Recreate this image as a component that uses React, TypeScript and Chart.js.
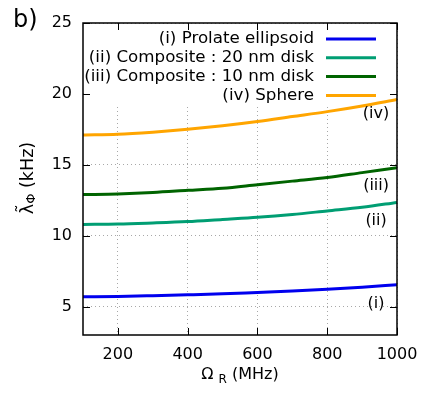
import React, { useEffect, useRef } from "react";
import { Chart, registerables } from "chart.js";

Chart.register(...registerables);

// Rotation frequency Ω_R (MHz)
const omegaR = [100, 200, 300, 400, 500, 600, 700, 800, 900, 1000];
// Mean λ_Φ (kHz) for each geometry
const prolate = [5.7, 5.72, 5.77, 5.83, 5.9, 6.0, 6.1, 6.22, 6.37, 6.55];
const composite20 = [10.8, 10.82, 10.9, 11.0, 11.15, 11.3, 11.5, 11.75, 12.0, 12.35];
const composite10 = [12.9, 12.95, 13.05, 13.2, 13.35, 13.6, 13.85, 14.1, 14.45, 14.8];
const sphere = [17.1, 17.15, 17.3, 17.5, 17.75, 18.05, 18.4, 18.75, 19.15, 19.6];

const seriesLabels = [
  "(i) Prolate ellipsoid",
  "(ii) Composite : 20 nm disk",
  "(iii) Composite : 10 nm disk",
  "(iv) Sphere",
];
const seriesColors = ["#0000ee", "#009e73", "#006400", "#ffa500"];
const curveTags = ["(i)", "(ii)", "(iii)", "(iv)"];
const tagX = 940;
const tagY = [5.2, 11.05, 13.55, 18.6];

const xTicks = [200, 400, 600, 800, 1000];
const yTicks = [5, 10, 15, 20, 25];

const FONT = "'DejaVu Sans', sans-serif";

const decorations = {
  id: "decorations",
  beforeDatasetsDraw(chart: any) {
    const { ctx, chartArea } = chart;
    // opaque key box across the top of the plot
    ctx.save();
    ctx.fillStyle = "#ffffff";
    ctx.fillRect(chartArea.left + 1, chartArea.top + 1, chartArea.right - chartArea.left - 2, 80);
    ctx.restore();
  },
  afterDatasetsDraw(chart: any) {
    const { ctx, chartArea, scales } = chart;
    const { left, right, top, bottom } = chartArea;
    const xs = scales.x;
    const ys = scales.y;
    ctx.save();

    // frame
    ctx.strokeStyle = "#000";
    ctx.lineWidth = 1.5;
    ctx.strokeRect(left, top, right - left, bottom - top);

    // inward ticks on all four sides
    ctx.lineWidth = 1;
    const tl = 7;
    ctx.beginPath();
    for (const v of xTicks) {
      const px = Math.round(xs.getPixelForValue(v)) + 0.5;
      ctx.moveTo(px, bottom);
      ctx.lineTo(px, bottom - tl);
      ctx.moveTo(px, top);
      ctx.lineTo(px, top + tl);
    }
    for (const v of yTicks) {
      const py = Math.round(ys.getPixelForValue(v)) + 0.5;
      ctx.moveTo(left, py);
      ctx.lineTo(left + tl, py);
      ctx.moveTo(right, py);
      ctx.lineTo(right - tl, py);
    }
    ctx.stroke();

    // key
    ctx.font = `16.7px ${FONT}`;
    ctx.fillStyle = "#000";
    ctx.textAlign = "right";
    ctx.textBaseline = "middle";
    seriesLabels.forEach((lab, i) => {
      const y = top + 16 + i * 18.8;
      ctx.fillText(lab, right - 83, y);
      ctx.strokeStyle = seriesColors[i];
      ctx.lineWidth = 3;
      ctx.beginPath();
      ctx.moveTo(right - 71, y);
      ctx.lineTo(right - 21, y);
      ctx.stroke();
    });

    // curve tags
    ctx.textAlign = "center";
    ctx.font = `16px ${FONT}`;
    curveTags.forEach((t, i) => {
      ctx.fillText(t, xs.getPixelForValue(tagX), ys.getPixelForValue(tagY[i]));
    });

    // panel letter
    ctx.textAlign = "left";
    ctx.font = `24px ${FONT}`;
    ctx.fillText("b)", 13, 21);

    // x title: Ω_R (MHz)
    const cx = (left + right) / 2;
    const big = 16, small = 12;
    ctx.font = `${big}px ${FONT}`;
    const wOmega = ctx.measureText("Ω ").width;
    const wUnit = ctx.measureText(" (MHz)").width;
    ctx.font = `${small}px ${FONT}`;
    const wR = ctx.measureText("R").width;
    let x0 = cx - (wOmega + wR + wUnit) / 2;
    const ty = 375;
    ctx.font = `${big}px ${FONT}`;
    ctx.fillText("Ω ", x0, ty);
    ctx.font = `${small}px ${FONT}`;
    ctx.fillText("R", x0 + wOmega, ty + 5);
    ctx.font = `${big}px ${FONT}`;
    ctx.fillText(" (MHz)", x0 + wOmega + wR, ty);

    // y title: λ̃_Φ (kHz)
    const yb = 17.5, ys2 = 13;
    ctx.translate(28, 178);
    ctx.rotate(-Math.PI / 2);
    ctx.font = `${yb}px ${FONT}`;
    const wL = ctx.measureText("λ̃").width;
    const wK = ctx.measureText(" (kHz)").width;
    ctx.font = `${ys2}px ${FONT}`;
    const wP = ctx.measureText("Φ").width;
    x0 = -(wL + wP + wK) / 2;
    ctx.font = `${yb}px ${FONT}`;
    ctx.fillText("λ̃", x0, 0);
    ctx.font = `${ys2}px ${FONT}`;
    ctx.fillText("Φ", x0 + wL, 4);
    ctx.font = `${yb}px ${FONT}`;
    ctx.fillText(" (kHz)", x0 + wL + wP, 0);

    ctx.restore();
  },
};

export default function App() {
  const ref = useRef<HTMLCanvasElement>(null);

  useEffect(() => {
    document.body.style.margin = "0";
    const series = [prolate, composite20, composite10, sphere];
    const chart = new Chart(ref.current!, {
      type: "line",
      data: {
        datasets: series.map((vals, i) => ({
          label: seriesLabels[i],
          data: omegaR.map((x, j) => ({ x, y: vals[j] })),
          borderColor: seriesColors[i],
          borderWidth: 3,
          pointRadius: 0,
          cubicInterpolationMode: "monotone" as const,
          fill: false,
        })),
      },
      options: {
        responsive: false,
        animation: false,
        layout: { padding: { top: 23, right: 37, left: 0, bottom: 0 } },
        plugins: { legend: { display: false }, tooltip: { enabled: false } },
        scales: {
          x: {
            type: "linear",
            min: 100,
            max: 1000,
            afterBuildTicks: (s: any) => {
              s.ticks = xTicks.map((v) => ({ value: v }));
            },
            afterFit: (s: any) => {
              s.height = 70;
            },
            grid: { color: "#a8a8a8", lineWidth: 1, drawTicks: false },
            border: { display: false, dash: [1, 3] },
            ticks: {
              color: "#000",
              font: { family: FONT, size: 16 },
              padding: 10,
              maxRotation: 0,
              callback: (v: any) => String(v),
            },
          },
          y: {
            type: "linear",
            min: 3,
            max: 25,
            afterBuildTicks: (s: any) => {
              s.ticks = yTicks.map((v) => ({ value: v }));
            },
            afterFit: (s: any) => {
              s.width = 83;
            },
            grid: { color: "#a8a8a8", lineWidth: 1, drawTicks: false },
            border: { display: false, dash: [1, 3] },
            ticks: {
              color: "#000",
              font: { family: FONT, size: 16 },
              padding: 11,
              callback: (v: any) => String(v),
            },
          },
        },
      },
      plugins: [decorations],
    });
    return () => chart.destroy();
  }, []);

  return (
    <div style={{ width: 434, height: 405 }}>
      <canvas ref={ref} width={434} height={405} />
    </div>
  );
}
